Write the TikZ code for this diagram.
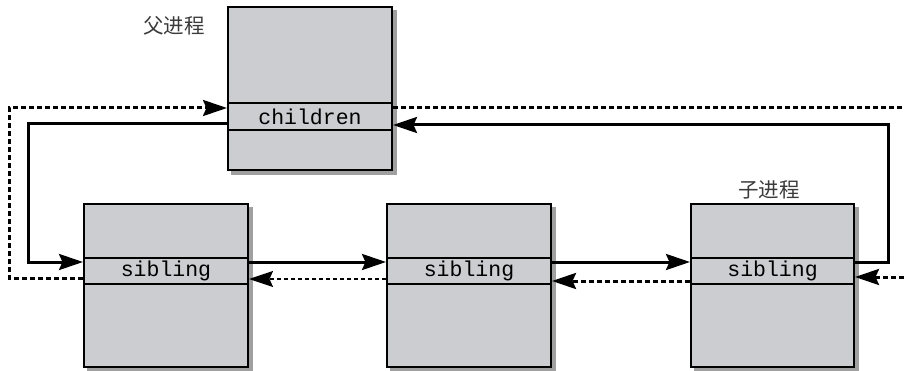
\documentclass[tikz,border=0pt]{standalone}
\usepackage{fontspec}
\setmonofont{Liberation Mono}
\newfontfamily\cjk{Noto Sans CJK SC}
\usetikzlibrary{arrows.meta,backgrounds,calc}
\definecolor{boxgray}{HTML}{CBCDD0}
\definecolor{shadowgray}{HTML}{A0A0A0}
\definecolor{labelgray}{HTML}{3A3A3A}
\tikzset{
  procbox/.style={draw=black, line width=2.5pt, fill=boxgray, minimum width=164pt, minimum height=163pt, inner sep=0pt},
  shadowfill/.style={fill=shadowgray},
  rowbox/.style={draw=black, line width=2pt, minimum width=164pt, inner sep=0pt, font=\ttfamily\fontsize{21.5}{21.5}\selectfont},
  cnlabel/.style={font=\cjk\fontsize{20.5}{21}\selectfont, text=labelgray, inner sep=0pt},
  arrowtip/.style={-{Stealth[length=24pt,width=16pt,inset=3.5pt]}},
  solidline/.style={line width=3pt, arrowtip},
  dotline/.style={line width=3pt, dash pattern=on 5pt off 3pt, arrowtip},
  thinline/.style={line width=1.6pt, dash pattern=on 4pt off 3pt, arrowtip},
}
\begin{document}
\begin{tikzpicture}[x=1pt,y=-1pt]
\useasboundingbox (0,0) rectangle (904,371);
% boxes
\node[procbox] (pbox) at (310,88.5) {};
\node[procbox] (lbox) at (166,285.5) {};
\node[procbox] (mbox) at (469,285.5) {};
\node[procbox, minimum width=163pt] (rbox) at (772.5,285.5) {};
% shadows
\begin{scope}[on background layer]
\foreach \b in {pbox,lbox,mbox,rbox}{
  \fill[shadowfill] ([xshift=4pt,yshift=-4pt]\b.south west) rectangle ([xshift=4pt,yshift=-4pt]\b.north east);
}
\end{scope}
% rows
\node[rowbox, minimum height=27pt] (prow) at (310,116.5) {children};
\node[rowbox, minimum height=26pt] (lrow) at (166,271) {sibling};
\node[rowbox, minimum height=26pt] (mrow) at (469,271) {sibling};
\node[rowbox, minimum height=26pt, minimum width=163pt] (rrow) at (772.5,271) {sibling};
% labels
\node[cnlabel] (plabel) at (174,26) {父进程};
\node[cnlabel] (rlabel) at (769,190) {子进程};
% guide coordinates
\coordinate (xdot) at (9,0);
\coordinate (xsol) at (28,0);
\coordinate (xright) at (888,0);
\coordinate (edgetop) at (904,108);
\coordinate (edgeright) at (904,277);
% connectors
\coordinate (a1) at ([yshift=-7pt]lrow.west);
\coordinate (b1) at ([yshift=8.5pt]prow.west);
\draw[dotline] (a1) -- (a1 -| xdot) -- (b1 -| xdot) -- (b1);
\coordinate (a2) at ([yshift=-7.5pt]prow.west);
\coordinate (b2) at ([yshift=9pt]lrow.west);
\draw[solidline] (a2) -- (a2 -| xsol) -- (b2 -| xsol) -- (b2);
\draw[solidline] ([yshift=9pt]lrow.east) -- ([yshift=9pt]mrow.west);
\draw[thinline] ([yshift=-8pt]mrow.west) -- ([yshift=-8pt]lrow.east);
\draw[solidline] ([yshift=9pt]mrow.east) -- ([yshift=9pt]rrow.west);
\draw[dotline] ([yshift=-10pt]rrow.west) -- ([yshift=-10pt]mrow.east);
\coordinate (a3) at ([yshift=9pt]rrow.east);
\coordinate (b3) at ([yshift=-8.5pt]prow.east);
\draw[solidline] (a3) -- (a3 -| xright) -- (b3 -| xright) -- (b3);
\draw[dotline, -] (b1 -| prow.east) -- (edgetop);
\draw[dotline] (edgeright) -- (edgeright -| rrow.east);
\end{tikzpicture}
\end{document}
